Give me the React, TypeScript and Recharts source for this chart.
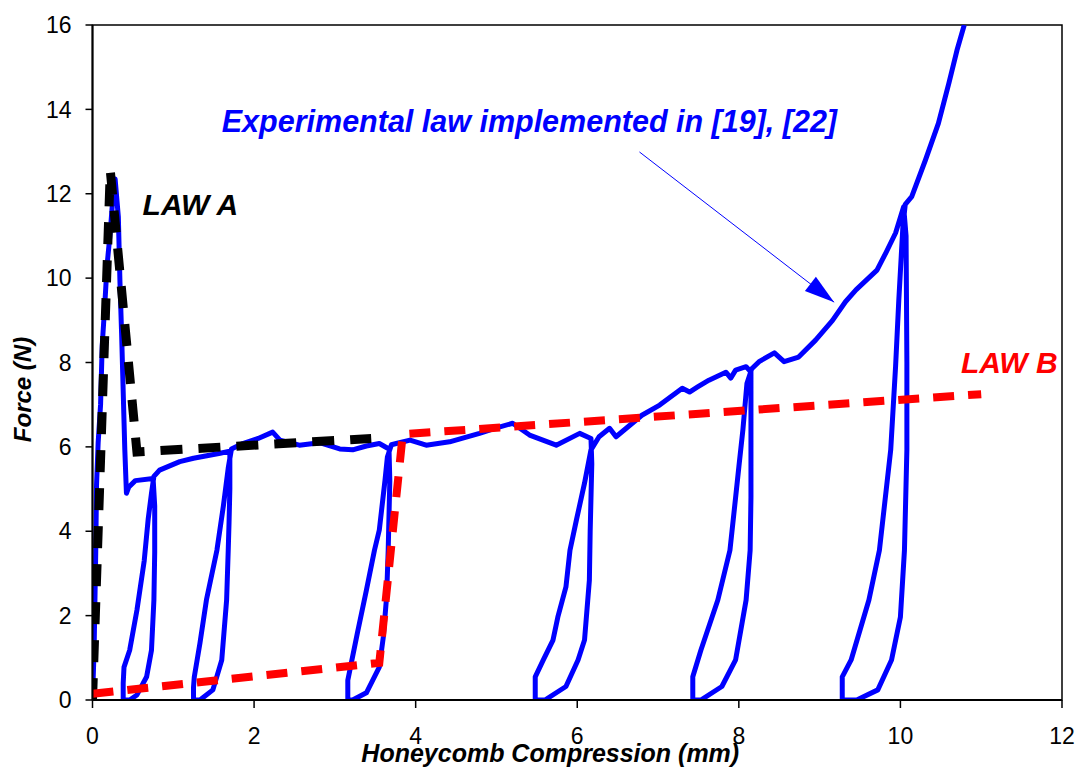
import React from 'react';
import {
  ComposedChart, Line, XAxis, YAxis, ReferenceArea, ReferenceDot,
} from 'recharts';

// measured curve, split in segments: loading path and the unload/reload loops
const rise = [[0, 0], [0.02, 1.2], [0.04, 3.5], [0.05, 5.1], [0.07, 6.1], [0.1, 7.0], [0.12, 8.4], [0.15, 9.3], [0.18, 10.3], [0.22, 11.1], [0.26, 12.1], [0.28, 12.35],
  [0.32, 11.45], [0.34, 9.9], [0.36, 8.7], [0.4, 5.93], [0.42, 4.9], [0.45, 5.05], [0.53, 5.2], [0.75, 5.25]];
const loop1 = [[0.77, 4.6], [0.77, 3.5], [0.76, 2.37], [0.73, 1.18], [0.67, 0.55], [0.55, 0.12], [0.46, 0], [0.38, 0],
  [0.38, 0.4], [0.39, 0.78], [0.46, 1.18], [0.55, 2.13], [0.64, 3.3], [0.69, 4.3], [0.73, 4.9], [0.76, 5.3]];
const path1 = [[0.83, 5.45], [1.08, 5.65], [1.25, 5.73], [1.58, 5.85], [1.7, 5.9]];
const loop2 = [[1.7, 5.0], [1.69, 4.2], [1.68, 3.55], [1.66, 2.37], [1.6, 0.95], [1.49, 0.24], [1.33, 0], [1.25, 0],
  [1.25, 0.3], [1.26, 0.55], [1.33, 1.35], [1.41, 2.37], [1.54, 3.55], [1.62, 4.6], [1.68, 5.5], [1.72, 5.95]];
const path2 = [[1.86, 6.08], [2.05, 6.2], [2.23, 6.35], [2.32, 6.16], [2.56, 6.04], [2.81, 6.1], [3.06, 5.95], [3.22, 5.93], [3.39, 6.02], [3.55, 6.08], [3.67, 5.95]];
const loop3 = [[3.68, 5.2], [3.66, 3.55], [3.64, 2.44], [3.6, 1.5], [3.55, 0.78], [3.39, 0.17], [3.22, 0], [3.16, 0],
  [3.16, 0.47], [3.28, 1.6], [3.39, 2.6], [3.49, 3.55], [3.55, 4.03], [3.62, 5.2], [3.65, 5.76], [3.7, 6.05]];
const path3 = [[3.76, 6.08], [3.93, 6.16], [4.13, 6.04], [4.42, 6.12], [4.79, 6.32], [5.0, 6.45], [5.2, 6.56], [5.41, 6.28], [5.74, 6.04], [6.03, 6.32], [6.17, 6.2]];
const loop4 = [[6.18, 5.6], [6.16, 4.0], [6.15, 2.84], [6.09, 1.42], [6.01, 0.95], [5.86, 0.32], [5.6, 0], [5.48, 0],
  [5.48, 0.55], [5.58, 0.95], [5.7, 1.42], [5.76, 1.97], [5.86, 2.68], [5.91, 3.55], [5.99, 4.27], [6.09, 5.14], [6.17, 5.93]];
const path4 = [[6.27, 6.24], [6.4, 6.44], [6.48, 6.24], [6.8, 6.75], [7.02, 6.99], [7.3, 7.39], [7.39, 7.3], [7.49, 7.42], [7.63, 7.58], [7.84, 7.77], [7.9, 7.63], [7.96, 7.82], [8.09, 7.9], [8.15, 7.77]];
const loop5 = [[8.15, 6.4], [8.15, 4.8], [8.14, 3.55], [8.09, 2.37], [7.96, 0.95], [7.79, 0.32], [7.53, 0], [7.43, 0],
  [7.43, 0.55], [7.53, 1.18], [7.74, 2.37], [7.89, 3.55], [7.96, 4.8], [8.0, 5.52], [8.05, 6.4], [8.1, 7.5], [8.16, 7.85]];
const path5 = [[8.25, 8.02], [8.44, 8.23], [8.56, 8.02], [8.74, 8.13], [8.95, 8.53], [9.16, 9.0], [9.32, 9.44], [9.45, 9.72], [9.71, 10.19], [9.82, 10.6], [9.94, 11.07], [10.04, 11.69]];
const loop6 = [[10.07, 11.0], [10.08, 8], [10.08, 5.93], [10.05, 3.55], [10.0, 1.97], [9.89, 0.95], [9.72, 0.24], [9.46, 0], [9.28, 0],
  [9.28, 0.55], [9.39, 0.95], [9.61, 2.37], [9.74, 3.55], [9.88, 5.93], [9.94, 7.9], [9.98, 9.48], [10.03, 11.2], [10.06, 11.75]];
const tail = [[10.14, 11.93], [10.31, 12.8], [10.47, 13.67], [10.6, 14.62], [10.7, 15.4], [10.79, 16]];

const lawA = [[0, 0], [0.22, 12.55], [0.55, 5.88], [3.45, 6.2]];
const lawB = [[0, 0.15], [3.55, 0.88], [3.84, 6.3], [11.0, 7.25]];
const arrow = [[6.77, 12.99], [9.18, 9.43]];

const xTicks = [0, 2, 4, 6, 8, 10, 12];
const yTicks = [0, 2, 4, 6, 8, 10, 12, 14, 16];

const toPts = (arr: number[][]) => arr.map(([x, y]) => ({ x, y }));
const experimental = toPts([...rise, ...loop1, ...path1, ...loop2, ...path2, ...loop3, ...path3, ...loop4, ...path4, ...loop5, ...path5, ...loop6, ...tail]);

const FONT = '"Liberation Sans", Arial, sans-serif';

const label = (text: string, color: string, size: number) => (p: any) => (
  <text x={p.cx} y={p.cy} fill={color} fontFamily={FONT} fontSize={size} fontWeight="bold" fontStyle="italic">{text}</text>
);

let arrowStart: { x: number; y: number } | null = null;
const ArrowDot = (p: any) => {
  if (p.index === 0) {
    arrowStart = { x: p.cx, y: p.cy };
    return <g key="a0" />;
  }
  const s = p.points && p.points[0] ? { x: p.points[0].x, y: p.points[0].y } : arrowStart || { x: p.cx - 195, y: p.cy - 150 };
  const ang = Math.atan2(p.cy - s.y, p.cx - s.x) * 180 / Math.PI;
  return (
    <polygon key="a1" points="0,0 -30,-9 -30,9" fill="#0000ff"
      transform={`translate(${p.cx},${p.cy}) rotate(${ang})`} />
  );
};

const YTitle = (props: any) => {
  const vb = props.viewBox;
  const cx = vb.x + 23;
  const cy = vb.y + vb.height / 2 + 27;
  return (
    <text x={cx} y={cy} transform={`rotate(-90,${cx},${cy})`} textAnchor="middle" fontFamily={FONT} fontSize={24} fontWeight="bold" fontStyle="italic" fill="#000">Force (N)</text>
  );
};

const XTitle = (props: any) => {
  const vb = props.viewBox;
  return (
    <text x={vb.x + vb.width / 2 - 27} y={vb.y + 62} textAnchor="middle" fontFamily={FONT} fontSize={25} fontWeight="bold" fontStyle="italic" fill="#000">Honeycomb Compression (mm)</text>
  );
};

export default function App() {
  return (
    <ComposedChart width={1077} height={764} margin={{ top: 17, right: 23, left: 0, bottom: 0 }}>
      <XAxis type="number" dataKey="x" domain={[0, 12]} ticks={xTicks} interval={0}
        height={72} stroke="#000" strokeWidth={2} tickSize={8} tickMargin={20}
        tick={{ fill: '#000', fontSize: 23, fontFamily: FONT }} tickLine={{ stroke: '#000', strokeWidth: 1.5 }}
        allowDataOverflow label={<XTitle />} />
      <YAxis type="number" dataKey="y" domain={[0, 16]} ticks={yTicks} interval={0}
        width={84.5} stroke="#000" strokeWidth={2} tickSize={7} tickMargin={14}
        tick={{ fill: '#000', fontSize: 23, fontFamily: FONT }} tickLine={{ stroke: '#000', strokeWidth: 1.5 }}
        allowDataOverflow label={<YTitle />} />
      <ReferenceArea x1={0} x2={12} y1={0} y2={16} fill="none" stroke="#000" strokeWidth={1.5} fillOpacity={0} />
      <Line data={experimental} dataKey="y" type="linear" stroke="#0000ff" strokeWidth={5}
        dot={false} isAnimationActive={false} strokeLinejoin="round" />
      <Line data={toPts(lawA)} dataKey="y" type="linear" stroke="#000" strokeWidth={9}
        strokeDasharray="22 16" dot={false} isAnimationActive={false} />
      <Line data={toPts(lawB)} dataKey="y" type="linear" stroke="#ff0000" strokeWidth={8}
        strokeDasharray="21 14" dot={false} isAnimationActive={false} />
      <Line data={toPts(arrow)} dataKey="y" type="linear" stroke="#0000ff" strokeWidth={1}
        dot={ArrowDot} activeDot={false} isAnimationActive={false} />
      <ReferenceDot x={1.6} y={13.46} r={1} shape={label('Experimental law implemented in [19], [22]', '#0000ff', 30.5)} />
      <ReferenceDot x={0.62} y={11.5} r={1} shape={label('LAW A', '#000', 30)} />
      <ReferenceDot x={10.75} y={7.75} r={1} shape={label('LAW B', '#ff0000', 30)} />
    </ComposedChart>
  );
}
